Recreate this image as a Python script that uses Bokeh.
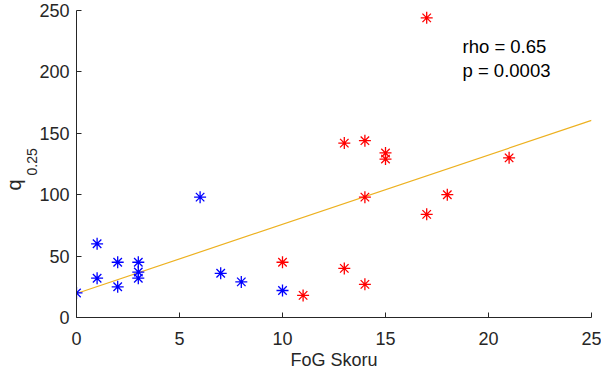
from bokeh.plotting import figure
from bokeh.models import Range1d, FixedTicker, Label, Title
from bokeh.embed import file_html
from bokeh.resources import INLINE

# ---- data ----
blue_x = [0, 1, 1, 2, 2, 3, 3, 3, 6, 7, 8, 10]
blue_y = [20, 60, 32, 45, 25, 45, 37, 32, 98, 36, 29, 22]
red_x = [10, 11, 13, 13, 14, 14, 14, 15, 15, 17, 17, 18, 21]
red_y = [45, 18, 142, 40, 144, 98, 27, 134, 129, 244, 84, 100, 130]
fit_x = [0, 25]
fit_y = [19.5, 160.5]
x_ticks = [0, 5, 10, 15, 20, 25]
y_ticks = [0, 50, 100, 150, 200, 250]
stats_lines = ["rho = 0.65", "p = 0.0003"]
x_label = "FoG Skoru"
y_label_main = "q"
y_label_sub = "0.25"

FONT = "Liberation Sans"
AX = "#262626"

p = figure(width=601, height=383, output_backend="svg", toolbar_location=None,
           x_range=Range1d(0, 25), y_range=Range1d(0, 250),
           min_border_left=76, min_border_right=10, min_border_top=10, min_border_bottom=66)
p.outline_line_color = None
p.grid.visible = False
p.background_fill_color = "white"
p.border_fill_color = "white"

p.line(fit_x, fit_y, line_color="#EDB120", line_width=1.2)
p.scatter(blue_x, blue_y, marker="asterisk", size=12, line_color="blue", line_width=1.3)
p.scatter(red_x, red_y, marker="asterisk", size=12, line_color="red", line_width=1.3)

for ax, ticks in ((p.xaxis, x_ticks), (p.yaxis, y_ticks)):
    ax.ticker = FixedTicker(ticks=ticks)
    ax.axis_line_color = AX
    ax.major_tick_line_color = AX
    ax.major_tick_in = 5
    ax.major_tick_out = 0
    ax.minor_tick_line_color = None
    ax.major_label_text_color = AX
    ax.major_label_text_font = FONT
    ax.major_label_text_font_size = "18px"
    ax.major_label_standoff = 7

p.xaxis.major_label_standoff = 14
p.xaxis.axis_label = x_label
p.xaxis.axis_label_text_font = FONT
p.xaxis.axis_label_text_font_size = "18px"
p.xaxis.axis_label_text_font_style = "normal"
p.xaxis.axis_label_text_color = AX
p.xaxis.axis_label_standoff = 2

# y label: "q" with subscript "0.25", as two vertical titles in the left panel
p.add_layout(Title(text=y_label_sub, align="left", offset=142, standoff=0,
                   text_font=FONT, text_font_size="14px", text_font_style="normal",
                   text_color=AX), "left")
p.add_layout(Title(text=y_label_main, align="left", offset=127, standoff=0,
                   text_font=FONT, text_font_size="20px", text_font_style="normal",
                   text_color=AX), "left")

for i, t in enumerate(stats_lines):
    p.add_layout(Label(x=386, y=271 - 24 * i, x_units="screen", y_units="screen", text=t,
                       text_align="left", text_baseline="middle",
                       text_font=FONT, text_font_size="18.5px", text_color="black"))

open("out.html", "w").write(file_html(p, INLINE))
